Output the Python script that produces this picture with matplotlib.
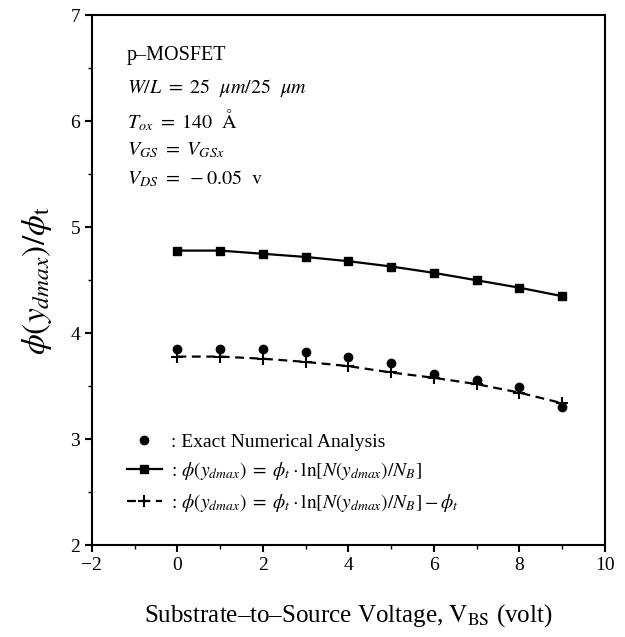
import numpy as np
import matplotlib
matplotlib.use("Agg")
import matplotlib.pyplot as plt
from matplotlib.ticker import MultipleLocator

plt.rcParams['font.family'] = 'serif'
plt.rcParams['font.serif'] = ['Liberation Serif', 'DejaVu Serif']
plt.rcParams['mathtext.fontset'] = 'stix'

# data
vbs = [0, 1, 2, 3, 4, 5, 6, 7, 8, 9]
exact = [3.85, 3.85, 3.85, 3.82, 3.78, 3.72, 3.62, 3.56, 3.49, 3.30]
model_ln = [4.78, 4.78, 4.75, 4.72, 4.68, 4.63, 4.57, 4.50, 4.43, 4.35]
model_ln_minus = [3.78, 3.78, 3.76, 3.73, 3.69, 3.63, 3.58, 3.52, 3.44, 3.34]

fig = plt.figure(figsize=(6.25, 6.37), dpi=100)
ax = fig.add_axes([0.147, 0.144, 0.821, 0.832])

ax.plot(vbs, exact, 'o', color='black', ms=6, linestyle='None',
        label=': Exact Numerical Analysis')
ax.plot(vbs, model_ln, '-s', color='black', lw=1.6, ms=6,
        label=r': $\phi(y_{dmax})\;=\;\phi_t\cdot\ln[N(y_{dmax})/N_B]$')
ax.plot(vbs, model_ln_minus, color='black', lw=1.6, linestyle=(0, (4, 2.5)),
        marker='+', ms=9, mew=1.5,
        label=r': $\phi(y_{dmax})\;=\;\phi_t\cdot\ln[N(y_{dmax})/N_B]-\phi_t$')

ax.set_xlim(-2, 10)
ax.set_ylim(2, 7)
ax.xaxis.set_major_locator(MultipleLocator(2))
ax.xaxis.set_minor_locator(MultipleLocator(1))
ax.yaxis.set_major_locator(MultipleLocator(1))
ax.yaxis.set_minor_locator(MultipleLocator(0.5))
ax.tick_params(which='major', direction='out', length=5, width=1.5, labelsize=14)
ax.tick_params(which='minor', direction='out', length=3, width=1)
for s in ax.spines.values():
    s.set_linewidth(1.5)

ax.set_xlabel(r'Substrate–to–Source Voltage, $\mathrm{V_{BS}}$ (volt)',
              fontsize=18, labelpad=20)
ax.set_ylabel(r'$\phi(y_{dmax})/\phi_{\mathrm{t}}$', fontsize=24, labelpad=12)

# device info
info = ['p–MOSFET',
        r'$W/L\ =\ 25\ \ \mu m/25\ \ \mu m$',
        r'$T_{ox}\ =\ 140\ \ \mathrm{Å}$',
        r'$V_{GS}\ =\ V_{GSx}$',
        r'$V_{DS}\ =\ -0.05\ \ \mathrm{v}$']
ypos = [0.925, 0.862, 0.802, 0.745, 0.692]
for t, y in zip(info, ypos):
    ax.text(0.068, y, t, transform=ax.transAxes, fontsize=14.5, va='center')

ax.legend(loc='upper left', bbox_to_anchor=(0.068, 0.212), frameon=False,
          fontsize=14, handlelength=1.8, handletextpad=0.45, numpoints=1,
          borderpad=0, borderaxespad=0, labelspacing=0.5)

fig.savefig('out.png', dpi=100)
